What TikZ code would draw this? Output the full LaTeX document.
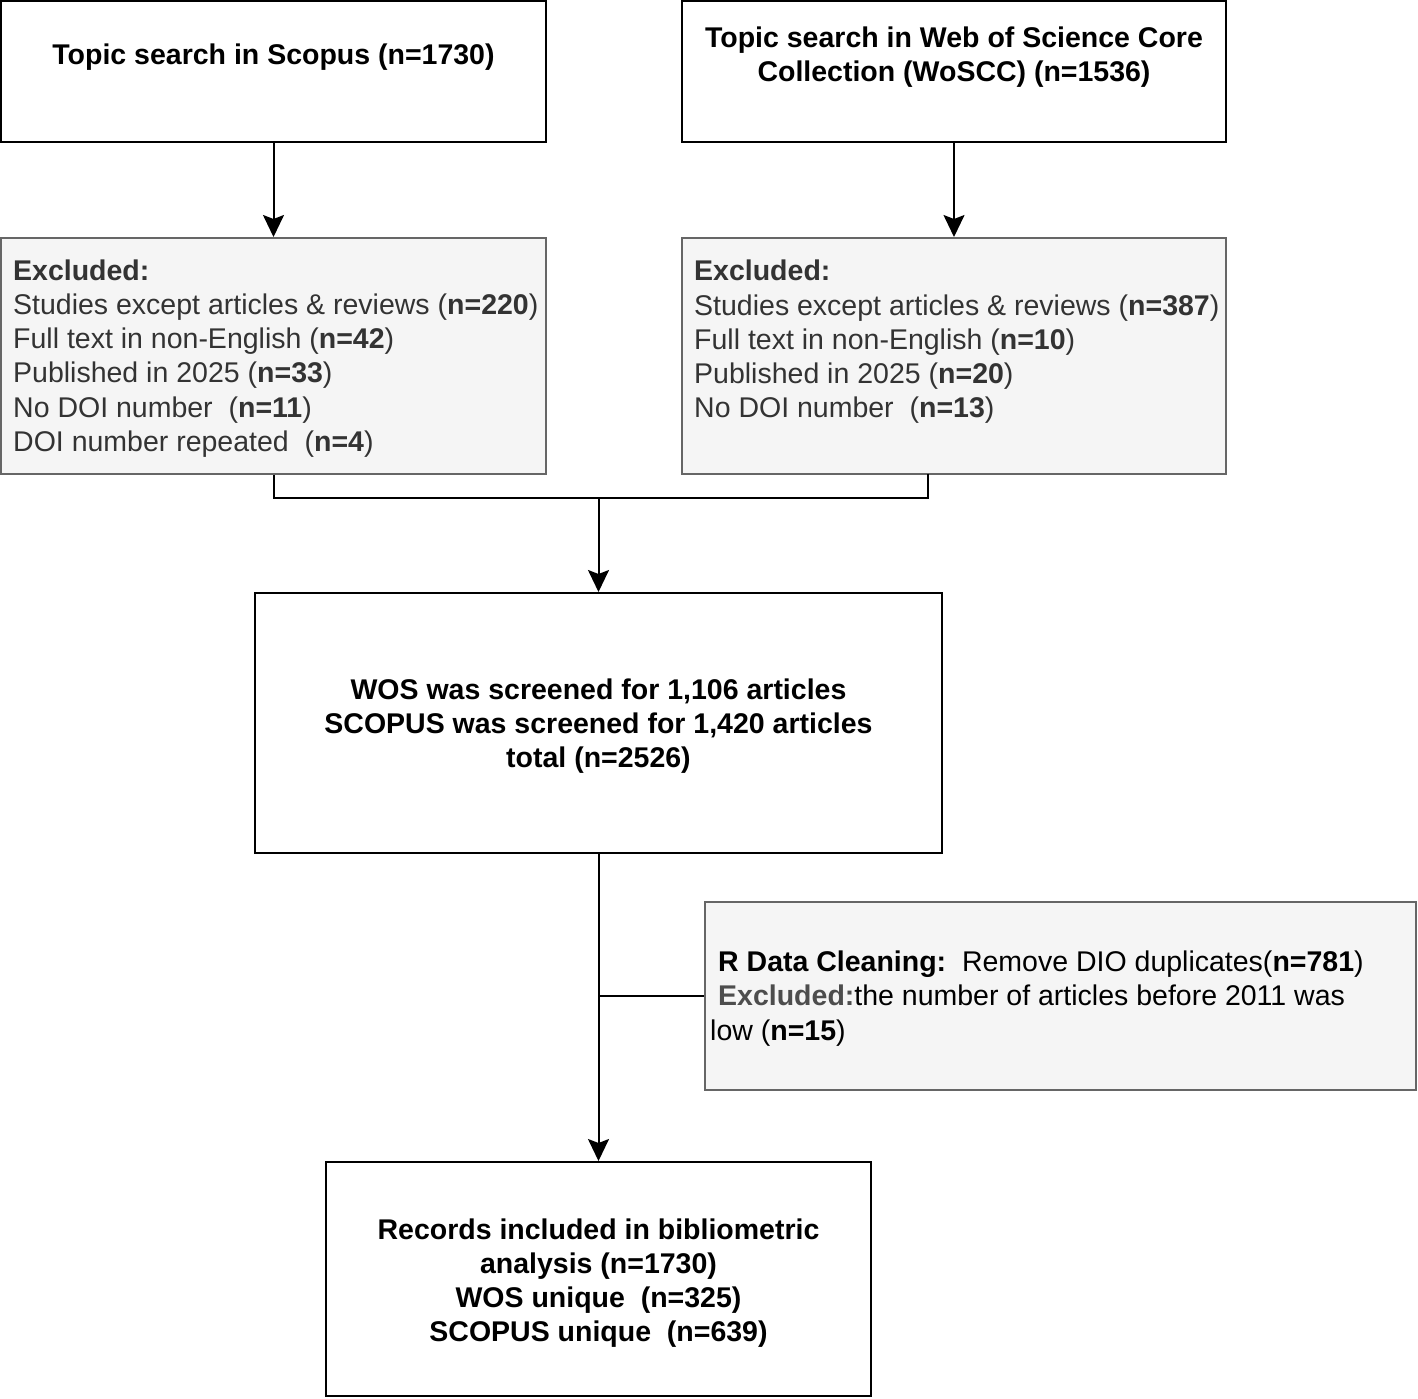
\documentclass[tikz,border=0pt]{standalone}
\usepackage{fontspec}
\setmainfont{Liberation Sans}
\usetikzlibrary{arrows.meta}
\definecolor{boxgray}{HTML}{F5F5F5}
\definecolor{edgegray}{HTML}{666666}
\definecolor{txtgray}{HTML}{333333}
\definecolor{excgray}{HTML}{4D4D4D}
\tikzset{
  whitebox/.style={draw=black, line width=2pt, fill=white, rectangle, inner sep=0pt},
  graybox/.style={draw=edgegray, line width=2pt, fill=boxgray, rectangle, inner sep=0pt},
  maintext/.style={font=\fontsize{28.5}{34}\selectfont\bfseries, align=center, inner sep=0pt},
  listtext/.style={font=\fontsize{28.5}{34.2}\selectfont, text=txtgray, align=left, inner sep=0pt},
  conn/.style={line width=2pt, draw=black},
  arr/.style={conn, -{Stealth[length=22pt, width=21pt, inset=4pt]}}
}
\begin{document}
\begin{tikzpicture}[x=1pt,y=-1pt]
\useasboundingbox (0,0) rectangle (1418,1398);
% boxes
\node[whitebox, minimum width=545pt, minimum height=141pt] (b1) at (273.5,71.5) {};
\node[whitebox, minimum width=544pt, minimum height=141pt] (b2) at (954,71.5) {};
\node[graybox, minimum width=545pt, minimum height=236pt] (g1) at (273.5,356) {};
\node[graybox, minimum width=544pt, minimum height=236pt] (g2) at (954,356) {};
\node[whitebox, minimum width=687pt, minimum height=260pt] (b3) at (598.5,723) {};
\node[graybox, minimum width=711pt, minimum height=188pt] (b4) at (1060.5,996) {};
\node[whitebox, minimum width=545pt, minimum height=234pt] (b5) at (598.5,1279) {};
% texts
\node[maintext] (t1) at (273.5,57) {Topic search in Scopus (n=1730)};
\node[maintext] (t2) at (954,57) {Topic search in Web of Science Core\\Collection (WoSCC) (n=1536)};
\node[listtext, anchor=west] (tg1) at (13,358.5) {\textbf{Excluded:}\\
Studies except articles \& reviews (\textbf{n=220})\\
Full text in non-English (\textbf{n=42})\\
Published in 2025 (\textbf{n=33})\\
No DOI number\ \ (\textbf{n=11})\\
DOI number repeated\ \ (\textbf{n=4})};
\node[listtext, anchor=west] (tg2) at (694,342) {\textbf{Excluded:}\\
Studies except articles \& reviews (\textbf{n=387})\\
Full text in non-English (\textbf{n=10})\\
Published in 2025 (\textbf{n=20})\\
No DOI number\ \ (\textbf{n=13})};
\node[maintext] (t3) at (598.5,726) {WOS was screened for 1,106 articles\\SCOPUS was screened for 1,420 articles\\total (n=2526)};
\node[listtext, text=black, anchor=west] (t4) at (710,998.5) {\hspace{8pt}\textbf{R Data Cleaning:}\ \ Remove DIO duplicates(\textbf{n=781})\\
\hspace{8pt}\textcolor{excgray}{\textbf{Excluded:}}the number of articles before 2011 was\\
low (\textbf{n=15})};
\node[maintext] (t5) at (598.5,1283) {Records included in bibliometric\\analysis (n=1730)\\WOS unique\ \ (n=325)\\SCOPUS unique\ \ (n=639)};
% connectors
\draw[arr] (b1.south) -- (g1.north);
\draw[arr] (b2.south) -- (g2.north);
\coordinate (m1) at (273.5,498);
\coordinate (m2) at (928,498);
\coordinate (g2b) at (928,474);
\coordinate (mc) at (598.5,498);
\draw[conn] (g1.south) -- (m1) -- (m2) -- (g2b);
\draw[arr] (mc) -- (b3.north);
\draw[arr] (b3.south) -- (b5.north);
\coordinate (br) at (598.5,996);
\draw[conn] (br) -- (b4.west);
\end{tikzpicture}
\end{document}
